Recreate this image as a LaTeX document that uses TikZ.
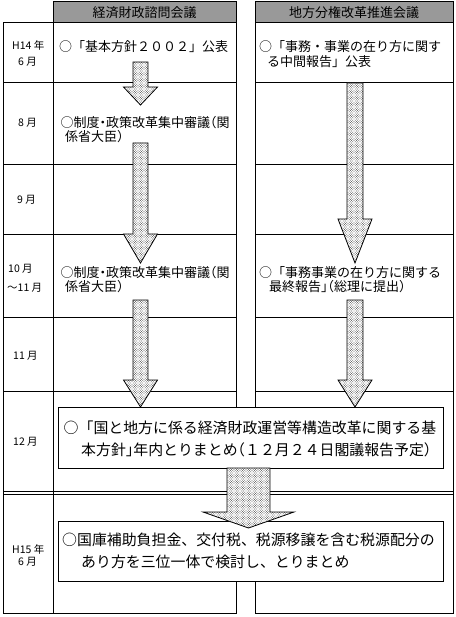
\documentclass[tikz,border=0pt]{standalone}
\usepackage{fontspec}
\setmainfont{Noto Sans CJK JP}
\newfontfamily\jph[RawFeature=+halt]{Noto Sans CJK JP}
\usetikzlibrary{patterns}
\pgfdeclarepatternformonly{finedots}{\pgfqpoint{-0.5pt}{-0.5pt}}{\pgfqpoint{2.5pt}{2.5pt}}{\pgfqpoint{2.4pt}{2.4pt}}{%
  \pgfpathcircle{\pgfqpoint{0pt}{0pt}}{0.38pt}%
  \pgfpathcircle{\pgfqpoint{1.2pt}{1.2pt}}{0.38pt}%
  \pgfusepath{fill}}
\newcommand\blockarrow[6]{% x, top, base, tip, shaft half, head half
  \draw[arrowfill] (#1-#5,#2) -- (#1+#5,#2) -- (#1+#5,#3) -- (#1+#6,#3) -- (#1,#4) -- (#1-#6,#3) -- (#1-#5,#3) -- cycle;}
\tikzset{
  gridline/.style={draw=black, line width=1pt},
  hdr/.style={draw=black, fill=black!40, line width=1pt},
  hdrtext/.style={inner sep=0pt, font=\fontsize{13}{15}\selectfont},
  cell/.style={anchor=base west, inner sep=0pt, font=\fontsize{13}{15}\selectfont},
  cellh/.style={anchor=base west, inner sep=0pt, font=\jph\fontsize{13}{15}\selectfont},
  boxtext/.style={anchor=base west, inner sep=0pt, font=\fontsize{14.9}{17}\selectfont},
  boxtexth/.style={anchor=base west, inner sep=0pt, font=\jph\fontsize{14.9}{17}\selectfont},
  datetext/.style={anchor=base west, inner sep=0pt, font=\fontsize{10.5}{12}\selectfont},
  bigbox/.style={draw=black, fill=white, line width=1pt},
  arrowfill/.style={draw=black, line width=0.8pt, preaction={fill=white}, pattern=finedots}
}
\begin{document}
\begin{tikzpicture}[x=1pt,y=-1pt]
\useasboundingbox (0,0) rectangle (455,617);
% headers
\draw[hdr] (53,2) rectangle (236,23);
\draw[hdr] (255,2) rectangle (453,23);
\node[hdrtext] (h1) at (144.5,13) {経済財政諮問会議};
\node[hdrtext] (h2) at (354,13) {地方分権改革推進会議};
% left table
\draw[gridline] (3,23) rectangle (236,613);
\draw[gridline] (53,23) -- (53,613);
\foreach \yy in {83,165,235,317,391} \draw[gridline] (3,\yy) -- (236,\yy);
\draw[line width=0.9pt] (3,491.8) -- (236,491.8);
\draw[line width=0.9pt] (3,494.6) -- (236,494.6);
% right table
\draw[gridline] (255,23) rectangle (453,613);
\foreach \yy in {83,165,235,317,391} \draw[gridline] (255,\yy) -- (453,\yy);
\draw[line width=0.9pt] (255,491.8) -- (453,491.8);
\draw[line width=0.9pt] (255,494.6) -- (453,494.6);
% date labels
\node[datetext] (d1a) at (12,50) {H14 年};
\node[datetext] (d1b) at (18,66) {6 月};
\node[datetext] (d2) at (18,127) {8 月};
\node[datetext] (d3) at (17,204) {9 月};
\node[datetext] (d4a) at (8,272) {10 月};
\node[datetext] (d4b) at (7,291) {～11 月};
\node[datetext] (d5) at (13,359) {11 月};
\node[datetext] (d6) at (13,445) {12 月};
\node[datetext] (d7a) at (12,553) {H15 年};
\node[datetext] (d7b) at (18,565) {6 月};
% cell texts
\node[cell] (l1) at (59,51.9) {○「基本方針２００２」公表};
\node[cell] (r1a) at (259,51.9) {○「事務・事業の在り方に関す};
\node[cell] (r1b) at (267,66.9) {る中間報告」公表};
\node[cellh] (l2a) at (60.5,127.9) {○制度・政策改革集中審議（関};
\node[cellh] (l2b) at (65,141.9) {係省大臣）};
\node[cellh] (l4a) at (60.5,277.9) {○制度・政策改革集中審議（関};
\node[cellh] (l4b) at (65,291.9) {係省大臣）};
\node[cell] (r4a) at (259,277.9) {○「事務事業の在り方に関する};
\node[cellh] (r4b) at (269,291.9) {最終報告」（総理に提出）};
% big boxes
\draw[bigbox] (58,407) rectangle (443,468);
\node[boxtext] (b1a) at (63.5,433.7) {○「国と地方に係る経済財政運営等構造改革に関する基};
\node[boxtexth] (b1b) at (81,455.7) {本方針」年内とりまとめ（１２月２４日閣議報告予定）};
\draw[bigbox] (58,521) rectangle (443,581);
\node[boxtext] (b2a) at (62,545.7) {○国庫補助負担金、交付税、税源移譲を含む税源配分の};
\node[boxtext] (b2b) at (81,567.7) {あり方を三位一体で検討し、とりまとめ};
% arrows
\blockarrow{140.5}{62}{87}{105}{7.5}{17}
\blockarrow{140.5}{143}{234}{263}{7.5}{17}
\blockarrow{140.5}{300}{380}{407}{7.5}{17}
\blockarrow{355}{83}{219}{263}{8}{17}
\blockarrow{355}{300}{380}{407}{8}{17}
\blockarrow{248.5}{468}{512}{528}{21.5}{45.5}
\end{tikzpicture}
\end{document}
